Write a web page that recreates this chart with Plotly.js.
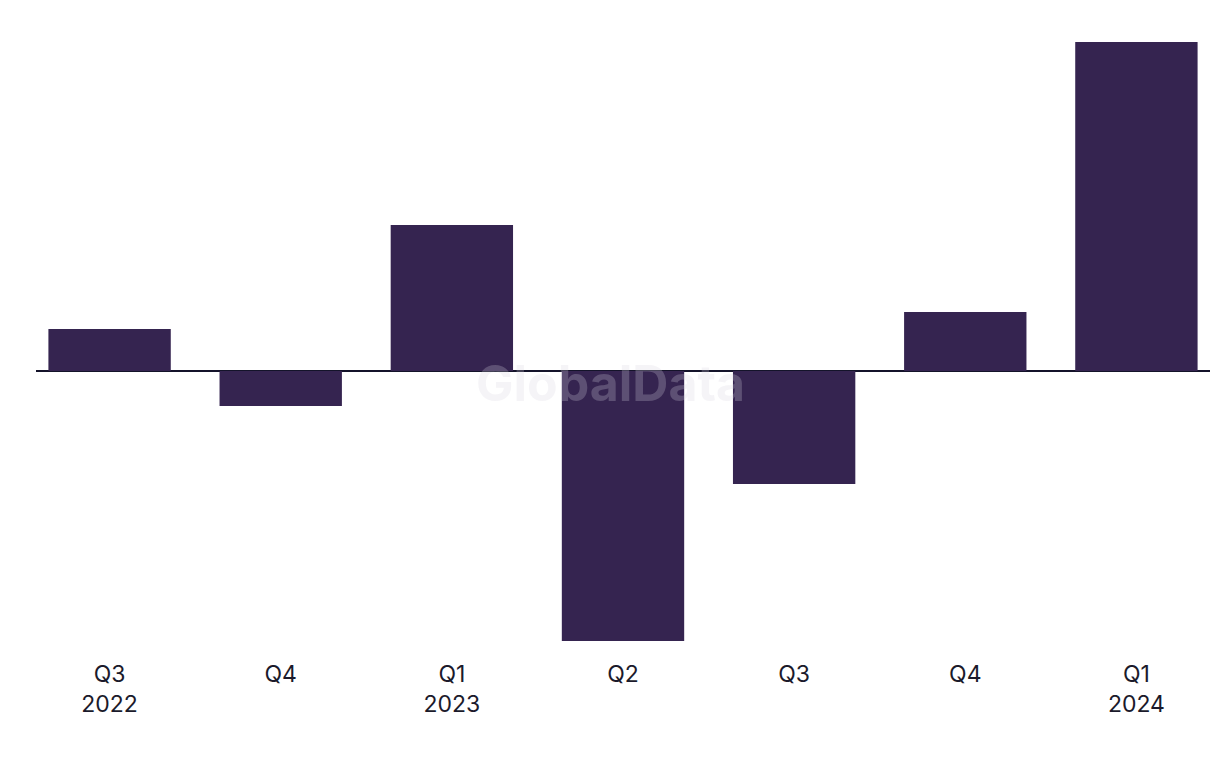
<!DOCTYPE html>
<html>
<head>
<meta charset="utf-8">
<script src="https://cdn.plot.ly/plotly-3.0.1.min.js"></script>
<style>html,body{margin:0;padding:0;background:#fff;}#chart{width:1220px;height:768px;}</style>
</head>
<body>
<div id="chart"></div>
<script>
const categories = ["Q3 2022", "Q4 2022", "Q1 2023", "Q2 2023", "Q3 2023", "Q4 2023", "Q1 2024"];
const tickLabels = ["Q3<br>2022", "Q4", "Q1<br>2023", "Q2", "Q3", "Q4", "Q1<br>2024"];
const values = [4.2, -3.5, 14.6, -27.0, -11.3, 5.9, 32.9];

const trace = {
  type: "bar",
  x: categories,
  y: values,
  marker: {color: "#352450"},
  hoverinfo: "none"
};

const layout = {
  width: 1220,
  height: 768,
  margin: {l: 36, r: 10, t: 31, b: 117},
  paper_bgcolor: "#ffffff",
  plot_bgcolor: "#ffffff",
  bargap: 0.285,
  showlegend: false,
  font: {family: "Inter, 'Noto Sans', sans-serif", color: "#1b1a2b", size: 23},
  xaxis: {
    type: "category",
    range: [-0.43, 6.43],
    tickvals: categories,
    ticktext: tickLabels,
    showgrid: false,
    zeroline: false,
    showline: false,
    ticks: "",
    ticklabelstandoff: 7,
    tickfont: {size: 23, color: "#1b1a2b"},
    fixedrange: true
  },
  yaxis: {
    range: [-28, 34],
    showgrid: false,
    zeroline: true,
    zerolinecolor: "#14132a",
    zerolinewidth: 2,
    showticklabels: false,
    ticks: "",
    showline: false,
    fixedrange: true
  },
  annotations: [{
    text: "<b>GlobalData</b>",
    xref: "paper", yref: "paper",
    x: 0.489, y: 0.432,
    showarrow: false,
    font: {family: "Inter, 'Noto Sans', sans-serif", size: 50, color: "rgba(215,212,222,0.25)"}
  }]
};

Plotly.newPlot("chart", [trace], layout, {displayModeBar: false, staticPlot: true});
</script>
</body>
</html>
